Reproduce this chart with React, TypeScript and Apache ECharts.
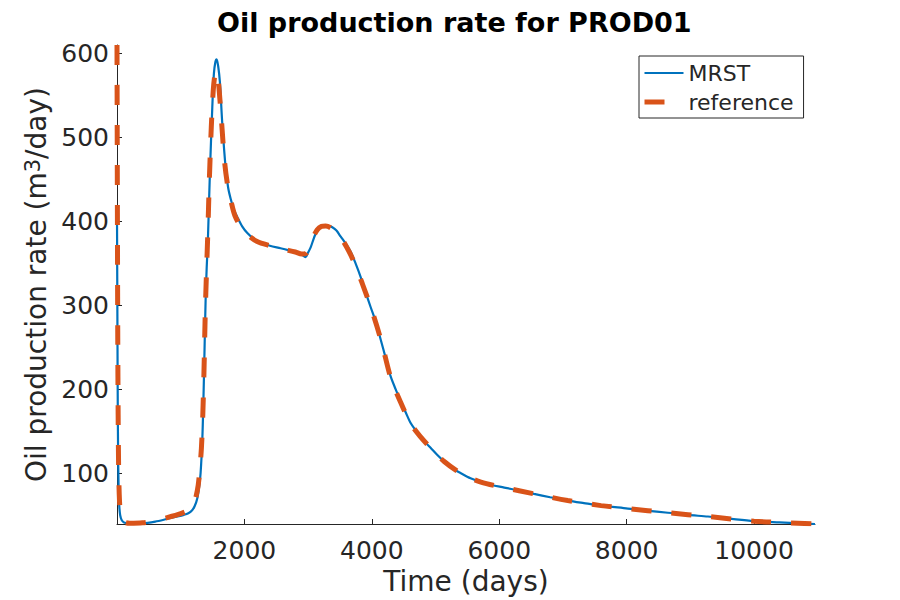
import React, { useEffect, useRef } from 'react';
import * as echarts from 'echarts';

const chartTitle = 'Oil production rate for PROD01';
const xAxisName = 'Time (days)';
const seriesNames = ['MRST', 'reference'];

const xTickValues = [2000, 4000, 6000, 8000, 10000];
const yTickValues = [100, 200, 300, 400, 500, 600];

const mrstDays = [0, 4, 8, 12, 18, 25, 35, 50, 75, 110, 200, 400, 600, 780, 950, 1050, 1120, 1180, 1220, 1260, 1290, 1312, 1339, 1356, 1372, 1391, 1408, 1427, 1458, 1496, 1521, 1545, 1564, 1588, 1615, 1653, 1705, 1745, 1784, 1835, 1889, 1965, 2046, 2150, 2254, 2400, 2568, 2700, 2800, 2882, 2961, 3000, 3040, 3095, 3144, 3205, 3275, 3330, 3380, 3445, 3510, 3585, 3667, 3745, 3824, 3900, 3981, 4060, 4140, 4215, 4297, 4375, 4455, 4535, 4612, 4690, 4769, 4845, 4926, 5025, 5136, 5260, 5398, 5550, 5713, 5880, 6079, 6300, 6546, 6800, 7076, 7330, 7599, 8019, 8300, 8648, 8950, 9277, 9600, 10000, 10400, 10957];
const mrstRate = [407, 330, 250, 180, 120, 85, 62, 50, 44, 41.5, 40.3, 40.5, 42.5, 45.5, 48.5, 50.5, 52.5, 56, 61, 70, 84, 100, 140, 185, 240, 306, 345, 378, 457, 536, 576, 590, 593, 585, 566, 516, 464, 440, 427, 414, 405, 394, 386, 379, 374.5, 371, 368, 365.5, 363.5, 361.5, 357.5, 363, 369, 381, 389, 393.5, 395, 394.5, 393, 389, 382, 374, 364, 350, 334, 316, 298, 281, 259, 238, 215, 200, 186, 172, 159.5, 151, 143.5, 136.5, 130, 122, 114, 106, 100, 94, 89.5, 86, 83, 79.5, 75.5, 71.5, 67.5, 64.5, 61.5, 58, 55.5, 53, 50.5, 48.5, 46, 43, 41.5, 39.6];

const refDays = [0, 4, 8, 12, 18, 25, 35, 50, 75, 110, 200, 400, 600, 800, 1000, 1100, 1160, 1200, 1240, 1275, 1300, 1325, 1345, 1365, 1385, 1405, 1425, 1450, 1480, 1510, 1535, 1555, 1575, 1600, 1640, 1690, 1740, 1790, 1850, 1950, 2050, 2200, 2400, 2600, 2800, 2900, 2970, 3013, 3060, 3144, 3210, 3275, 3380, 3510, 3600, 3700, 3850, 4000, 4150, 4300, 4450, 4612, 4769, 4926, 5136, 5398, 5713, 6079, 6546, 7076, 7599, 8019, 8648, 9277, 10000, 10957];
const refRate = [610, 480, 360, 260, 170, 110, 75, 55, 46, 42, 40.5, 41, 43.5, 47.5, 52, 55, 58, 62, 72, 86, 105, 130, 165, 220, 290, 340, 385, 450, 512, 555, 574, 579, 576, 560, 520, 470, 441, 424, 407, 393, 384, 376, 371, 367, 363.5, 361, 362, 368, 378, 390, 394, 394.5, 391, 381, 370, 355, 326, 294, 257, 213, 185, 159, 143, 130, 114, 100, 89.5, 83, 75.5, 67.5, 61.5, 58, 53, 48.5, 43, 39.6];

const xMin = 0;
const xMax = 10957;
const yMin = 39.6;
const yMax = 610;

const FONT = 'DejaVu Sans';
const AXIS_COLOR = '#262626';
const MRST_COLOR = '#0072BD';
const REF_COLOR = '#D95319';

export default function App() {
  const ref = useRef<HTMLDivElement>(null);

  useEffect(() => {
    if (!ref.current) return;
    const chart = echarts.init(ref.current, null, { renderer: 'svg' });
    const mrstData = mrstDays.map((d, i) => [d, mrstRate[i]]);
    const refData = refDays.map((d, i) => [d, refRate[i]]);

    chart.setOption({
      animation: false,
      backgroundColor: '#ffffff',
      textStyle: { fontFamily: FONT },
      title: {
        text: chartTitle,
        left: 217,
        top: 9,
        padding: 0,
        textStyle: { fontFamily: FONT, fontSize: 27, fontWeight: 'bold', color: '#000000' },
      },
      grid: { left: 117, right: 85, top: 45, bottom: 76, outerBoundsMode: 'none' },
      legend: {
        data: [
          { name: seriesNames[0], lineStyle: { width: 2.2, color: MRST_COLOR } },
          { name: seriesNames[1], lineStyle: { width: 5, color: REF_COLOR, type: [20, 20] } },
        ],
        orient: 'vertical',
        left: 639,
        top: 56,
        padding: [6, 10, 5, 3],
        itemWidth: 39,
        itemHeight: 14,
        itemGap: 7,
        backgroundColor: '#ffffff',
        borderColor: AXIS_COLOR,
        borderWidth: 1,
        borderRadius: 0,
        itemStyle: { color: 'rgba(0,0,0,0)', borderColor: 'rgba(0,0,0,0)', borderWidth: 0, opacity: 0 },
        textStyle: { fontFamily: FONT, fontSize: 22, color: AXIS_COLOR, lineHeight: 22 },
      },
      xAxis: {
        type: 'value',
        min: xMin,
        max: xMax,
        name: xAxisName,
        nameLocation: 'middle',
        nameGap: 43,
        nameTextStyle: { fontFamily: FONT, fontSize: 28, color: AXIS_COLOR },
        axisLine: { show: true, lineStyle: { color: AXIS_COLOR, width: 1 } },
        axisTick: { show: true, inside: true, length: 5, customValues: xTickValues, lineStyle: { color: AXIS_COLOR } },
        axisLabel: {
          customValues: xTickValues,
          margin: 14,
          fontFamily: FONT,
          fontSize: 25,
          color: AXIS_COLOR,
          formatter: (v: number) => String(v),
        },
        splitLine: { show: false },
      },
      yAxis: {
        type: 'value',
        min: yMin,
        max: yMax,
        name: '{a|Oil production rate (m}{s|3}{a|/day)}',
        nameLocation: 'middle',
        nameRotate: 90,
        nameGap: 63,
        nameTextStyle: {
          fontFamily: FONT,
          color: AXIS_COLOR,
          fontSize: 28,
          rich: {
            a: { fontFamily: FONT, fontSize: 28, color: AXIS_COLOR },
            s: { fontFamily: FONT, fontSize: 21, color: AXIS_COLOR, verticalAlign: 'top' },
          },
        },
        axisLine: { show: true, lineStyle: { color: AXIS_COLOR, width: 1 } },
        axisTick: { show: true, inside: true, length: 5, customValues: yTickValues, lineStyle: { color: AXIS_COLOR } },
        axisLabel: {
          customValues: yTickValues,
          margin: 8,
          fontFamily: FONT,
          fontSize: 25,
          color: AXIS_COLOR,
          formatter: (v: number) => String(v),
        },
        splitLine: { show: false },
      },
      series: [
        {
          name: seriesNames[0],
          type: 'line',
          data: mrstData,
          symbol: 'none',
          smooth: 0.3,
          lineStyle: { color: MRST_COLOR, width: 2.2 },
          itemStyle: { color: MRST_COLOR },
          z: 2,
        },
        {
          name: seriesNames[1],
          type: 'line',
          data: refData,
          symbol: 'none',
          smooth: 0.3,
          lineStyle: { color: REF_COLOR, width: 5, type: [20, 20] },
          itemStyle: { color: REF_COLOR },
          z: 3,
        },
      ],
    });

    return () => chart.dispose();
  }, []);

  return (
    <div
      ref={ref}
      style={{ position: 'absolute', left: 0, top: 0, width: 900, height: 600 }}
    />
  );
}
